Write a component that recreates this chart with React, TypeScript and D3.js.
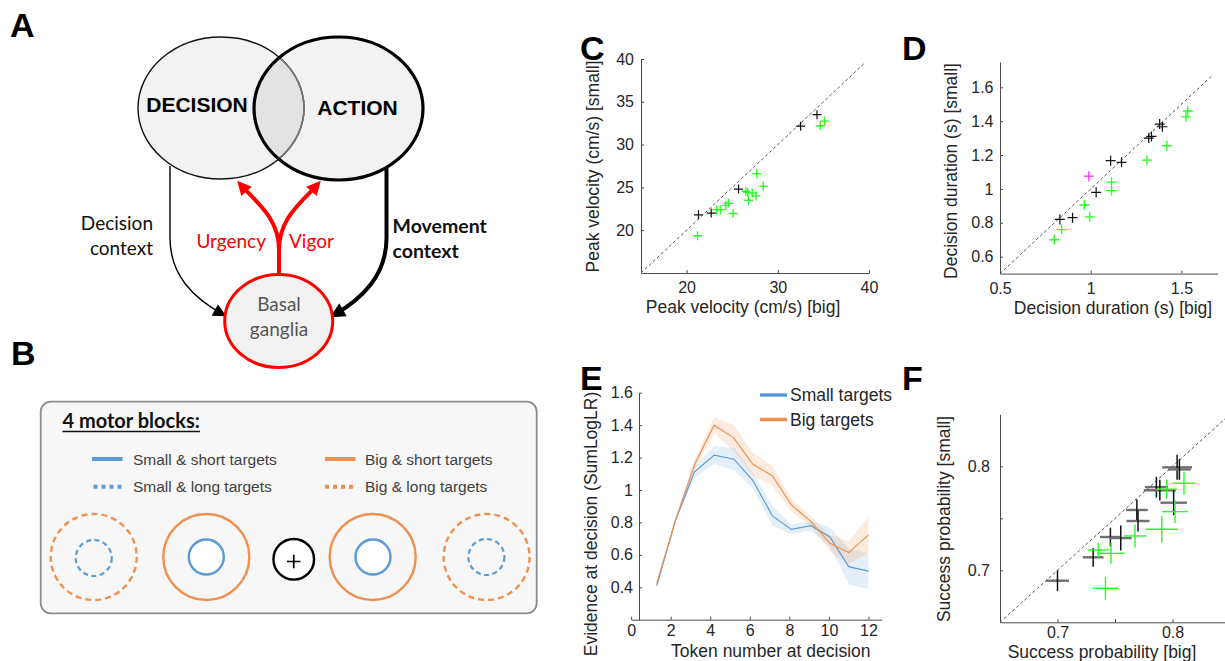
import { useEffect, useRef } from "react";
import * as React from "react";
import { ScaleLinear, area, axisBottom, axisLeft, line, scaleLinear, select } from "d3";

const SANS = "'Liberation Sans', Arial, Helvetica, sans-serif";
const CAL = "Lato, 'Liberation Sans', sans-serif";
const INK = "#262626";
const BLUE = "#5b9bd5";
const ORANGE = "#f0904f";
const GREEN = "#22ff22";
const MAGENTA = "#ff22ff";

// C: peak velocity (cm/s), big vs small targets
const velBigBlack = [21.3, 22.7, 25.7, 32.5, 34.3];
const velSmallBlack = [21.8, 22.0, 24.8, 32.15, 33.5];
const velBigGreen = [21.2, 23.3, 23.7, 24.3, 24.6, 25.1, 26.5, 26.7, 26.8, 27.2, 27.6, 27.7, 28.4, 34.65, 35.15];
const velSmallGreen = [19.35, 22.4, 22.4, 22.9, 23.15, 21.95, 24.55, 24.4, 23.5, 24.35, 24.0, 26.6, 25.15, 32.2, 32.75];
const velTicksX = [20, 30, 40];
const velTicksY = [20, 25, 30, 35, 40];

// D: decision duration (s)
const durBigBlack = [0.83, 0.9, 1.03, 1.11, 1.17, 1.32, 1.335, 1.38, 1.395];
const durSmallBlack = [0.82, 0.83, 0.98, 1.167, 1.157, 1.3, 1.31, 1.383, 1.367];
const durBigMagenta = [0.99];
const durSmallMagenta = [1.075];
const durBigGreen = [0.8, 0.84, 0.965, 0.995, 1.115, 1.115, 1.31, 1.42, 1.525, 1.535];
const durSmallGreen = [0.7, 0.76, 0.905, 0.835, 1.04, 0.99, 1.17, 1.255, 1.425, 1.46];
const durTicksX = [0.5, 1, 1.5];
const durTicksY = [0.6, 0.8, 1, 1.2, 1.4, 1.6];

// E: evidence at decision vs token number
const tokenNumber = [1.3, 2.25, 3.2, 4.2, 5.2, 6.15, 7.15, 8.1, 9.1, 10.05, 11.0, 12.0];
const evidenceSmall = [0.41, 0.815, 1.11, 1.215, 1.19, 1.06, 0.84, 0.757, 0.78, 0.71, 0.527, 0.5];
const evidenceSmallSem = [0.01, 0.01, 0.035, 0.055, 0.07, 0.05, 0.06, 0.03, 0.03, 0.06, 0.11, 0.11];
const evidenceBig = [0.425, 0.815, 1.154, 1.4, 1.32, 1.16, 1.086, 0.908, 0.805, 0.671, 0.614, 0.723];
const evidenceBigSem = [0.01, 0.01, 0.03, 0.05, 0.08, 0.07, 0.06, 0.04, 0.03, 0.05, 0.07, 0.11];
const tokenTicks = [0, 2, 4, 6, 8, 10, 12];
const evidenceTicks = [0.4, 0.6, 0.8, 1, 1.2, 1.4, 1.6];

// F: success probability with error bars
const succBigBlack = [0.7, 0.731, 0.746, 0.755, 0.769, 0.77, 0.786, 0.789, 0.801, 0.804, 0.806];
const succSmallBlack = [0.69, 0.7125, 0.732, 0.731, 0.758, 0.7474, 0.78, 0.777, 0.765, 0.799, 0.797];
const succBigBlackErr = [0.01, 0.009, 0.009, 0.0095, 0.0095, 0.01, 0.01, 0.014, 0.0115, 0.013, 0.01];
const succSmallBlackErr = [0.01, 0.009, 0.009, 0.012, 0.01, 0.01, 0.01, 0.01, 0.012, 0.012, 0.01];
const succBigGreen = [0.7355, 0.7465, 0.7417, 0.7674, 0.7907, 0.8022, 0.795, 0.81];
const succSmallGreen = [0.7195, 0.7163, 0.6827, 0.733, 0.7394, 0.7564, 0.778, 0.7837];
const succBigGreenErr = [0.009, 0.012, 0.011, 0.01, 0.014, 0.011, 0.009, 0.01];
const succSmallGreenErr = [0.007, 0.01, 0.011, 0.011, 0.013, 0.011, 0.009, 0.011];
const succTicks = [0.7, 0.75, 0.8];
const succLabelled = [0.7, 0.8];

const fmt = (d: number) => String(+(+d).toFixed(3));

interface AxisProps {
  scale: ScaleLinear<number, number>;
  orient: "bottom" | "left";
  transform: string;
  ticks: number[];
  padding: number;
  labelled?: number[];
}

function Axis(props: AxisProps) {
  const { scale, orient, transform, ticks, padding, labelled } = props;
  const ref = useRef<SVGGElement>(null);

  useEffect(() => {
    if (!ref.current) return;
    const ax = (orient === "bottom" ? axisBottom(scale) : axisLeft(scale))
      .tickValues(ticks)
      .tickFormat((d: any) => (!labelled || labelled.includes(+d) ? fmt(d) : ""))
      .tickSizeInner(-3)
      .tickSizeOuter(0)
      .tickPadding(padding);
    const g = select(ref.current);
    g.call(ax as any);
    g.attr("font-size", 16).attr("font-family", SANS);
    g.select(".domain").attr("stroke", "#4a4a4a");
    g.selectAll(".tick line").attr("stroke", "#4a4a4a");
    g.selectAll(".tick text").attr("fill", INK);
  }, [scale, orient, ticks, padding, labelled]);

  return <g ref={ref} transform={transform} />;
}

function Crosses(props: { xs: number[]; ys: number[]; sx: any; sy: any; color: string; half: number; width: number }) {
  const { xs, ys, sx, sy, color, half, width } = props;
  return (
    <g stroke={color} strokeWidth={width} fill="none">
      {xs.map((v, i) => {
        const cx = sx(v);
        const cy = sy(ys[i]);
        return <path key={i} d={`M${cx - half},${cy}H${cx + half}M${cx},${cy - half}V${cy + half}`} />;
      })}
    </g>
  );
}

function ErrorCrosses(props: {
  xs: number[]; ys: number[]; ex: number[]; ey: number[]; sx: any; sy: any;
  hColor: string; vColor: string; hWidth: number; vWidth: number;
}) {
  const { xs, ys, ex, ey, sx, sy, hColor, vColor, hWidth, vWidth } = props;
  return (
    <g fill="none">
      {xs.map((v, i) => (
        <g key={i}>
          <line x1={sx(v - ex[i])} x2={sx(v + ex[i])} y1={sy(ys[i])} y2={sy(ys[i])} stroke={hColor} strokeWidth={hWidth} />
          <line x1={sx(v)} x2={sx(v)} y1={sy(ys[i] - ey[i])} y2={sy(ys[i] + ey[i])} stroke={vColor} strokeWidth={vWidth} />
        </g>
      ))}
    </g>
  );
}

function Diagonal(props: { sx: any; sy: any; lo: number; hi: number }) {
  const { sx, sy, lo, hi } = props;
  return (
    <line x1={sx(lo)} y1={sy(lo)} x2={sx(hi)} y2={sy(hi)} stroke="#555" strokeWidth={1} strokeDasharray="3,2.5" />
  );
}

function YLabel(props: { x: number; y: number; text: string }) {
  return (
    <text transform={`translate(${props.x},${props.y}) rotate(-90)`} textAnchor="middle" fontSize={17.5} fontFamily={SANS} fill={INK}>
      {props.text}
    </text>
  );
}

function XLabel(props: { x: number; y: number; text: string }) {
  return (
    <text x={props.x} y={props.y} textAnchor="middle" fontSize={17.5} fontFamily={SANS} fill={INK}>
      {props.text}
    </text>
  );
}

function PanelLabel(props: { x: number; y: number; text: string }) {
  return (
    <text x={props.x} y={props.y} fontSize={34} fontWeight="bold" fontFamily={SANS} fill="#000">
      {props.text}
    </text>
  );
}

function PanelA() {
  return (
    <g>
      <defs>
        <clipPath id="rightEllipse">
          <ellipse cx={338.5} cy={108.5} rx={84.5} ry={71.5} />
        </clipPath>
        <marker id="headThin" viewBox="0 0 10 10" refX={8} refY={5} markerUnits="userSpaceOnUse" markerWidth={15} markerHeight={13} orient="auto">
          <path d="M0,0L10,5L0,10z" fill="#000" />
        </marker>
        <marker id="headThick" viewBox="0 0 10 10" refX={7} refY={5} markerUnits="userSpaceOnUse" markerWidth={17} markerHeight={15} orient="auto">
          <path d="M0,0L10,5L0,10z" fill="#000" />
        </marker>
        <marker id="headRed" viewBox="0 0 10 10" refX={7} refY={5} markerUnits="userSpaceOnUse" markerWidth={15} markerHeight={14} orient="auto">
          <path d="M0,0L10,5L0,10z" fill="#ff0000" />
        </marker>
      </defs>
      <ellipse cx={221} cy={108} rx={83} ry={71} fill="#f2f2f2" />
      <ellipse cx={338.5} cy={108.5} rx={84.5} ry={71.5} fill="#f2f2f2" />
      <ellipse cx={221} cy={108} rx={83} ry={71} fill="#e3e3e3" clipPath="url(#rightEllipse)" />
      <ellipse cx={221} cy={108} rx={83} ry={71} fill="none" stroke="#111" strokeWidth={1.4} />
      <ellipse cx={221} cy={108} rx={83} ry={71} fill="none" stroke="#777" strokeWidth={1.6} clipPath="url(#rightEllipse)" />
      <ellipse cx={338.5} cy={108.5} rx={84.5} ry={71.5} fill="none" stroke="#000" strokeWidth={3.2} />
      <text x={197} y={112} textAnchor="middle" fontSize={21} fontWeight="bold" fontFamily={SANS}>DECISION</text>
      <text x={357.5} y={115} textAnchor="middle" fontSize={21} fontWeight="bold" fontFamily={SANS}>ACTION</text>

      <path d="M170,166 L170,238 C170,275 193,298 224,315" fill="none" stroke="#000" strokeWidth={1.4} markerEnd="url(#headThin)" />
      <path d="M386.5,167 L386.5,238 C386.5,275 363,298 334,315" fill="none" stroke="#000" strokeWidth={4} markerEnd="url(#headThick)" />
      <path d="M279,275 L279,246" fill="none" stroke="#ff0000" strokeWidth={4} />
      <path d="M279,250 C279,218 257,203 240,184" fill="none" stroke="#ff0000" strokeWidth={4} markerEnd="url(#headRed)" />
      <path d="M279,250 C279,218 301,203 318,184" fill="none" stroke="#ff0000" strokeWidth={4} markerEnd="url(#headRed)" />

      <ellipse cx={278.7} cy={321} rx={54} ry={46.5} fill="#f2f2f2" stroke="#ff0000" strokeWidth={3} />
      <text x={279} y={311} textAnchor="middle" fontSize={19} fontFamily={CAL} fill="#555">Basal</text>
      <text x={279} y={336} textAnchor="middle" fontSize={19} fontFamily={CAL} fill="#555">ganglia</text>

      <text x={153} y={230} textAnchor="end" fontSize={19} fontFamily={CAL} fill="#111">Decision</text>
      <text x={153} y={255} textAnchor="end" fontSize={19} fontFamily={CAL} fill="#111">context</text>
      <text x={392.5} y={232.5} fontSize={19.5} fontWeight="bold" fontFamily={CAL} fill="#111">Movement</text>
      <text x={392.5} y={257.5} fontSize={19.5} fontWeight="bold" fontFamily={CAL} fill="#111">context</text>
      <text x={266} y={248} textAnchor="end" fontSize={19} fontFamily={CAL} fill="#ff0000">Urgency</text>
      <text x={289} y={248} fontSize={19} fontFamily={CAL} fill="#ff0000">Vigor</text>
    </g>
  );
}

function PanelB() {
  const cy = 557;
  return (
    <g>
      <rect x={40.7} y={401.7} width={496} height={211.6} rx={10} fill="#f7f7f7" stroke="#8c8c8c" strokeWidth={1.8} />
      <text x={62.5} y={427.5} fontSize={20} fontWeight="bold" fontFamily={CAL} fill="#111">4 motor blocks:</text>
      <line x1={62.5} x2={200} y1={431.5} y2={431.5} stroke="#111" strokeWidth={1.5} />

      <line x1={92} x2={122.5} y1={459} y2={459} stroke={BLUE} strokeWidth={4} />
      <line x1={93.5} x2={124} y1={486.7} y2={486.7} stroke={BLUE} strokeWidth={4} strokeDasharray="4,4" />
      <line x1={325} x2={355.5} y1={459} y2={459} stroke={ORANGE} strokeWidth={4} />
      <line x1={325} x2={356} y1={486.7} y2={486.7} stroke={ORANGE} strokeWidth={4} strokeDasharray="4,4" />
      <g fontSize={15.5} fontFamily={SANS} fill="#404040">
        <text x={133} y={464.5}>Small &amp; short targets</text>
        <text x={133} y={492}>Small &amp; long targets</text>
        <text x={365} y={464.5}>Big &amp; short targets</text>
        <text x={365} y={492}>Big &amp; long targets</text>
      </g>

      <circle cx={93.75} cy={cy} r={43} fill="none" stroke={ORANGE} strokeWidth={2.4} strokeDasharray="6,4" />
      <circle cx={93.75} cy={cy + 1} r={18} fill="none" stroke={BLUE} strokeWidth={2.2} strokeDasharray="5,3.5" />
      <circle cx={206.3} cy={cy} r={43} fill="none" stroke={ORANGE} strokeWidth={2.4} />
      <circle cx={206.3} cy={cy} r={17.5} fill="#fff" stroke={BLUE} strokeWidth={2.4} />
      <circle cx={293.75} cy={559.3} r={20.3} fill="#fff" stroke="#000" strokeWidth={2.4} />
      <path d="M287,561.5H300.5M293.75,554.8V568.2" stroke="#000" strokeWidth={1.7} />
      <circle cx={372.7} cy={cy} r={43} fill="none" stroke={ORANGE} strokeWidth={2.4} />
      <circle cx={373} cy={cy} r={17.5} fill="#fff" stroke={BLUE} strokeWidth={2.4} />
      <circle cx={486.6} cy={cy} r={43} fill="none" stroke={ORANGE} strokeWidth={2.4} strokeDasharray="6,4" />
      <circle cx={486.4} cy={cy} r={18} fill="none" stroke={BLUE} strokeWidth={2.2} strokeDasharray="5,3.5" />
    </g>
  );
}

function PanelC() {
  const sx = scaleLinear().domain([15, 40]).range([641, 869]);
  const sy = scaleLinear().domain([15, 40]).range([273, 59]);
  return (
    <g>
      <Diagonal sx={sx} sy={sy} lo={15} hi={39.6} />
      <Crosses xs={velBigBlack} ys={velSmallBlack} sx={sx} sy={sy} color="#111" half={4.5} width={1.2} />
      <Crosses xs={velBigGreen} ys={velSmallGreen} sx={sx} sy={sy} color={GREEN} half={4.5} width={1.3} />
      <Axis scale={sx} orient="bottom" transform="translate(0,273)" ticks={velTicksX} padding={9} />
      <Axis scale={sy} orient="left" transform="translate(641,0)" ticks={velTicksY} padding={7} />
      <XLabel x={743} y={313} text="Peak velocity (cm/s) [big]" />
      <YLabel x={599} y={166.5} text="Peak velocity (cm/s) [small]" />
    </g>
  );
}

function PanelD() {
  const sx = scaleLinear().domain([0.5, 1.7]).range([1000, 1217.7]);
  const sy = scaleLinear().domain([0.5, 1.75]).range([273.6, 61.9]);
  return (
    <g>
      <Diagonal sx={sx} sy={sy} lo={0.5} hi={1.67} />
      <Crosses xs={durBigBlack} ys={durSmallBlack} sx={sx} sy={sy} color="#111" half={5} width={1.2} />
      <Crosses xs={durBigGreen} ys={durSmallGreen} sx={sx} sy={sy} color={GREEN} half={5} width={1.3} />
      <Crosses xs={durBigMagenta} ys={durSmallMagenta} sx={sx} sy={sy} color={MAGENTA} half={5} width={1.3} />
      <Axis scale={sx} orient="bottom" transform="translate(0,273.6)" ticks={durTicksX} padding={9} />
      <Axis scale={sy} orient="left" transform="translate(1000,0)" ticks={durTicksY} padding={6.5} />
      <XLabel x={1113} y={314} text="Decision duration (s) [big]" />
      <YLabel x={957} y={171} text="Decision duration (s) [small]" />
    </g>
  );
}

function PanelE() {
  const sx = scaleLinear().domain([0, 12.67]).range([631.1, 881.7]);
  const sy = scaleLinear().domain([0.2, 1.6]).range([619.7, 392.7]);
  const band = (m: number[], s: number[]) =>
    area<number>()
      .x((d) => sx(d))
      .y0((d, i) => sy(m[i] - s[i]))
      .y1((d, i) => sy(m[i] + s[i]))(tokenNumber) || "";
  const trace = (m: number[]) =>
    line<number>()
      .x((d) => sx(d))
      .y((d, i) => sy(m[i]))(tokenNumber) || "";
  return (
    <g>
      <path d={band(evidenceSmall, evidenceSmallSem)} fill={BLUE} fillOpacity={0.16} />
      <path d={band(evidenceBig, evidenceBigSem)} fill={ORANGE} fillOpacity={0.18} />
      <path d={trace(evidenceSmall)} fill="none" stroke={BLUE} strokeWidth={1.2} />
      <path d={trace(evidenceBig)} fill="none" stroke={ORANGE} strokeWidth={1.2} />
      <Axis scale={sx} orient="bottom" transform="translate(0,619.7)" ticks={tokenTicks} padding={5} />
      <Axis scale={sy} orient="left" transform={`translate(${sx(0.4)},0)`} ticks={evidenceTicks} padding={6} />
      <line x1={760} x2={787} y1={395} y2={395} stroke={BLUE} strokeWidth={3.5} />
      <line x1={760} x2={787} y1={419.5} y2={419.5} stroke={ORANGE} strokeWidth={3.5} />
      <g fontSize={17.5} fontFamily={SANS} fill={INK}>
        <text x={790} y={401}>Small targets</text>
        <text x={790} y={425.5}>Big targets</text>
      </g>
      <XLabel x={770.8} y={657} text="Token number at decision" />
      <YLabel x={597} y={524} text="Evidence at decision (SumLogLR)" />
    </g>
  );
}

function PanelF() {
  const sx = scaleLinear().domain([0.65, 0.85]).range([1000, 1230]);
  const sy = scaleLinear().domain([0.65, 0.85]).range([622.3, 414.3]);
  return (
    <g>
      <Diagonal sx={sx} sy={sy} lo={0.65} hi={0.85} />
      <ErrorCrosses xs={succBigBlack} ys={succSmallBlack} ex={succBigBlackErr} ey={succSmallBlackErr} sx={sx} sy={sy}
        hColor="#707070" vColor="#111" hWidth={2.4} vWidth={1.5} />
      <ErrorCrosses xs={succBigGreen} ys={succSmallGreen} ex={succBigGreenErr} ey={succSmallGreenErr} sx={sx} sy={sy}
        hColor={GREEN} vColor={GREEN} hWidth={1.4} vWidth={1.4} />
      <Axis scale={sx} orient="bottom" transform="translate(0,622.3)" ticks={succTicks} labelled={succLabelled} padding={4.5} />
      <Axis scale={sy} orient="left" transform="translate(1000,0)" ticks={succTicks} labelled={succLabelled} padding={10} />
      <XLabel x={1102} y={657.5} text="Success probability [big]" />
      <YLabel x={950} y={519} text="Success probability [small]" />
    </g>
  );
}

export default function App() {
  return (
    <svg
      width={1225}
      height={661}
      style={{ position: "absolute", left: 0, top: 0, background: "#fff" }}
      fontFamily={SANS}
    >
      <rect x={0} y={0} width={1225} height={661} fill="#fff" />
      <PanelA />
      <PanelB />
      <PanelC />
      <PanelD />
      <PanelE />
      <PanelF />
      <PanelLabel x={10} y={37} text="A" />
      <PanelLabel x={11} y={365} text="B" />
      <PanelLabel x={580} y={60} text="C" />
      <PanelLabel x={902} y={60} text="D" />
      <PanelLabel x={580} y={390} text="E" />
      <PanelLabel x={902} y={390} text="F" />
    </svg>
  );
}
